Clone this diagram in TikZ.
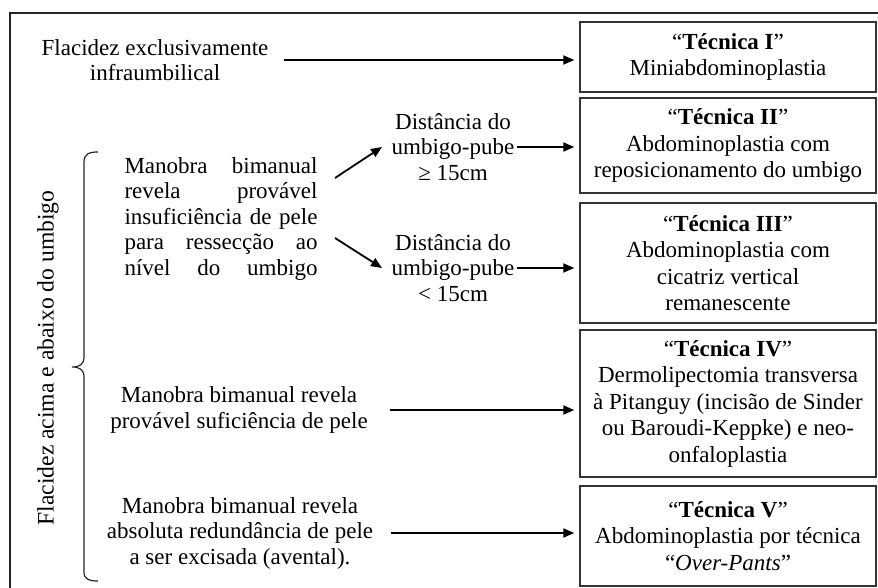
\documentclass[tikz,border=0pt]{standalone}
\usepackage{fontspec}
\setmainfont{Liberation Serif}
\usetikzlibrary{arrows.meta,calc}
\begin{document}
\begin{tikzpicture}[x=1pt,y=-1pt,
  every node/.style={font=\fontsize{23}{25.5}\selectfont, inner sep=0pt},
  tbox/.style={draw=black!80, line width=1.4pt, minimum width=296pt, align=center, font=\fontsize{23}{26.5}\selectfont},
  arr/.style={-{Triangle[length=11pt,width=9pt]}, line width=1.8pt},
]
\useasboundingbox (0,0) rectangle (878,588);
\fill[white] (0,0) rectangle (878,588);
\draw[line width=2pt, black!85] (10,13) rectangle (900,610);

% boxes
\node[tbox, minimum height=70pt]  (b1) at (728,57)    {“\textbf{Técnica I}”\\Miniabdominoplastia};
\node[tbox, minimum height=95pt]  (b2) at (728,145.5) {“\textbf{Técnica II}”\\Abdominoplastia com\\reposicionamento do umbigo};
\node[tbox, minimum height=120pt] (b3) at (728,263)   {“\textbf{Técnica III}”\\Abdominoplastia com\\cicatriz vertical\\remanescente};
\node[tbox, minimum height=147pt] (b4) at (728,403.5) {“\textbf{Técnica IV}”\\Dermolipectomia transversa\\à Pitanguy (incisão de Sinder\\ou Baroudi-Keppke) e neo-\\onfaloplastia};
\node[tbox, minimum height=100pt] (b5) at (728,536)   {“\textbf{Técnica V}”\\Abdominoplastia por técnica\\“\textit{Over-Pants}”};

% left texts
\node[align=center] (flac) at (155,60) {Flacidez exclusivamente\\infraumbilical};
\node[text width=193pt, align=justify] (man) at (221,219) {Manobra\hfill bimanual\\revela\hfill provável\\insuficiência\hfill de\hfill pele\\para\hfill ressecção\hfill ao\\nível\hfill do\hfill umbigo};
\node[align=center] (d1) at (453,147) {Distância do\\umbigo-pube\\≥ 15cm};
\node[align=center] (d2) at (453,268) {Distância do\\umbigo-pube\\< 15cm};
\node[align=center] (suf) at (239,410) {Manobra bimanual revela\\provável suficiência de pele};
\node[align=center] (red) at (240,533) {Manobra bimanual revela\\absoluta redundância de pele\\a ser excisada (avental).};
\node[rotate=90, font=\fontsize{23.6}{26}\selectfont] (lab) at (48,358) {Flacidez acima e abaixo do umbigo};

% brace
\draw[line width=1.2pt, black!85] (98,152) .. controls (89,152) and (84,154) .. (84,162) -- (84,357)
  .. controls (84,364) and (80,367) .. (72,367)
  .. controls (80,367) and (84,370) .. (84,377) -- (84,572)
  .. controls (84,579) and (89,581) .. (98,581);

% arrows
\coordinate (u1) at (335,178); \coordinate (u2) at (382,147);
\coordinate (l1) at (335,238); \coordinate (l2) at (382,268);
\draw[arr] ([xshift=15pt]flac.east) -- ([xshift=-5pt]flac.east -| b1.west);
\draw[arr] (u1) -- (u2);
\draw[arr] (l1) -- (l2);
\draw[arr] ([xshift=2pt]d1.east) -- ([xshift=-5pt]d1.east -| b2.west);
\draw[arr] ([xshift=2pt]d2.east) -- ([xshift=-5pt]d2.east -| b3.west);
\draw[arr] ([xshift=22pt]suf.east) -- ([xshift=-5pt]suf.east -| b4.west);
\draw[arr] ([xshift=18pt]red.east) -- ([xshift=-5pt]red.east -| b5.west);
\end{tikzpicture}
\end{document}
